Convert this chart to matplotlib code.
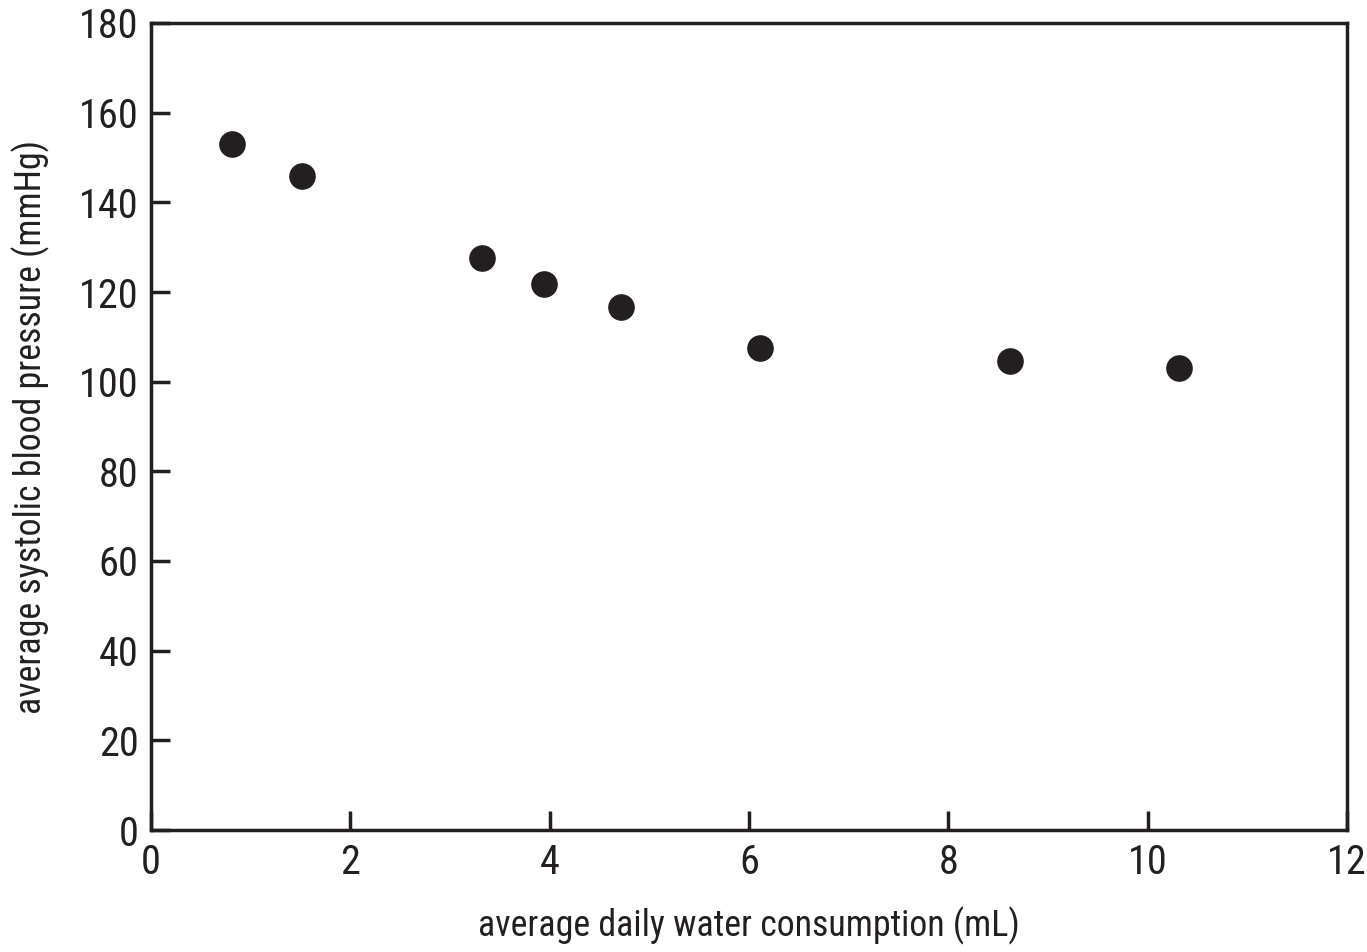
import matplotlib
matplotlib.use("Agg")
import matplotlib.pyplot as plt

water_ml = [0.81, 1.52, 3.32, 3.94, 4.72, 6.11, 8.62, 10.31]
systolic_bp = [153.0, 145.9, 127.6, 121.8, 116.7, 107.5, 104.6, 103.1]
x_ticks = [0, 2, 4, 6, 8, 10, 12]
y_ticks = [0, 20, 40, 60, 80, 100, 120, 140, 160, 180]

plt.rcParams["font.family"] = ["Roboto Condensed", "DejaVu Sans"]

ink = "#231f20"
fig = plt.figure(figsize=(13.67, 9.52), dpi=100)
ax = fig.add_axes([151 / 1367, 1 - 830 / 952, (1347 - 151) / 1367, (830 - 23) / 952])

ax.scatter(water_ml, systolic_bp, s=330, color=ink, zorder=3)

ax.set_xlim(0, 12)
ax.set_ylim(0, 180)
ax.set_xticks(x_ticks)
ax.set_yticks(y_ticks)
ax.tick_params(direction="in", length=14, width=2.5, color=ink, labelcolor=ink,
               labelsize=29)
ax.tick_params(axis="y", pad=9)
ax.tick_params(axis="x", pad=9)
for sp in ax.spines.values():
    sp.set_linewidth(2.5)
    sp.set_color(ink)

ax.set_xlabel("average daily water consumption (mL)", fontsize=25.8, color=ink, labelpad=18)
ax.set_ylabel("average systolic blood pressure (mmHg)", fontsize=25.8, color=ink, labelpad=21)

fig.savefig("out.png", dpi=100)
